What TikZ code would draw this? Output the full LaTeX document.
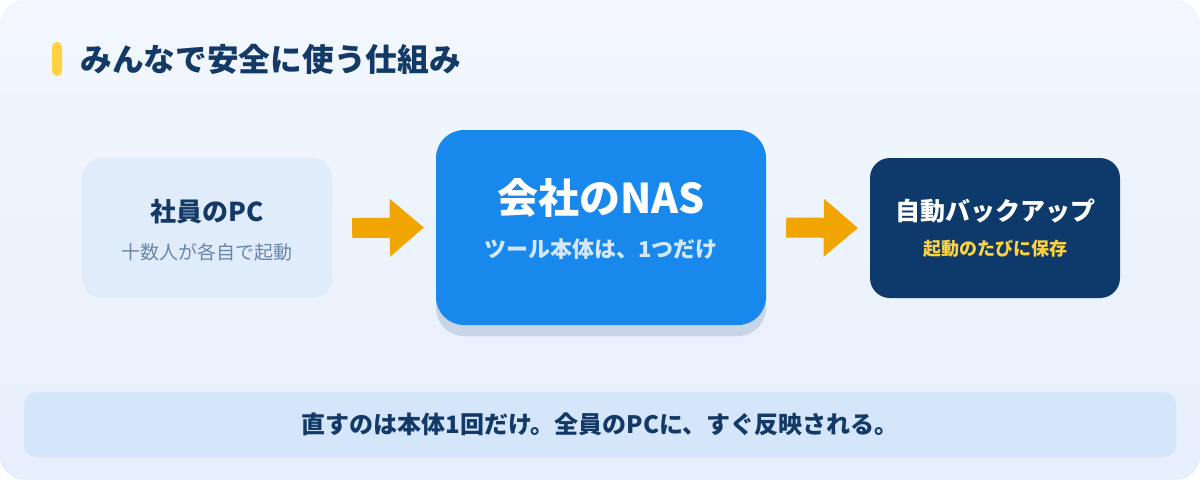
\documentclass[tikz,border=0pt]{standalone}
\usepackage{fontspec}
\setmainfont{Noto Sans CJK JP}
\usetikzlibrary{arrows.meta,calc,shadows}

\definecolor{bgTop}{HTML}{F3F7FD}
\definecolor{bgBottom}{HTML}{E6EFFC}
\definecolor{navy}{HTML}{133A66}
\definecolor{pcFill}{HTML}{E1ECFA}
\definecolor{pcSub}{HTML}{6B87A8}
\definecolor{arrowOrange}{HTML}{F0A500}
\definecolor{nasFill}{HTML}{1888EC}
\definecolor{nasShadow}{HTML}{C8D5E7}
\definecolor{nasSub}{HTML}{D3E8FD}
\definecolor{backupFill}{HTML}{0E3A6B}
\definecolor{accent}{HTML}{FFD23F}
\definecolor{barFill}{HTML}{D5E6FB}

\tikzset{
  box/.style={rounded corners=20pt, inner sep=0pt, minimum width=250pt, minimum height=140pt},
  flow/.style={draw=arrowOrange, line width=20pt,
    -{Triangle[length=34pt, width=58pt, line width=0pt]}},
  boxtitle/.style={inner sep=0pt, font=\bfseries\fontsize{26pt}{30pt}\selectfont},
  boxsub/.style={inner sep=0pt, font=\fontsize{19pt}{22pt}\selectfont},
}

\begin{document}
\begin{tikzpicture}[x=1pt, y=-1pt]
    % Background
    \useasboundingbox (0,0) rectangle (1200,480);
    \shade[top color=bgTop, bottom color=bgBottom, rounded corners=24pt] (0,0) rectangle (1200,480);

    % Heading
    \node[fill=accent, rounded corners=5pt, minimum width=10pt, minimum height=34pt, inner sep=0pt] (mark) at (57,59) {};
    \node[anchor=west, inner sep=0pt, text=navy, font=\bfseries\fontsize{31.7pt}{36pt}\selectfont]
        (heading) at ($(mark.east)+(18,0)$) {みんなで安全に使う仕組み};

    % Boxes
    \node[box, fill=pcFill] (pc) at (207,228) {};
    \node[box, fill=nasFill, rounded corners=28pt, minimum width=330pt, minimum height=195pt,
        general shadow={shadow yshift=-11pt, fill=nasShadow}] (nas) at (601,227.5) {};
    \node[box, fill=backupFill] (backup) at (995,228) {};

    % Box texts
    \node[boxtitle, text=navy] (pctitle) at ($(pc.center)+(0,-16)$) {社員のPC};
    \node[boxsub, text=pcSub] (pcsub) at ($(pc.center)+(0,24)$) {十数人が各自で起動};
    \node[inner sep=0pt, text=white, font=\bfseries\fontsize{41pt}{46pt}\selectfont]
        (nastitle) at ($(nas.center)+(0,-30)$) {会社のNAS};
    \node[boxsub, text=nasSub, font=\bfseries\fontsize{22pt}{26pt}\selectfont]
        (nassub) at ($(nas.center)+(0,22)$) {ツール本体は、1つだけ};
    \node[boxtitle, text=white, font=\bfseries\fontsize{25pt}{30pt}\selectfont]
        (backuptitle) at ($(backup.center)+(0,-17)$) {自動バックアップ};
    \node[boxsub, text=accent, font=\bfseries\fontsize{18pt}{22pt}\selectfont]
        (backupsub) at ($(backup.center)+(0,21)$) {起動のたびに保存};

    % Arrows
    \draw[flow] ($(pc.east)+(20,0)$) -- ($(nas.west)+(-12,0)$);
    \draw[flow] ($(nas.east)+(20,0)$) -- ($(backup.west)+(-12,0)$);

    % Bottom note
    \node[fill=barFill, rounded corners=12pt, minimum width=1152pt, minimum height=65pt,
        text=navy, font=\bfseries\fontsize{24pt}{28pt}\selectfont] (note) at (600,424.5)
        {直すのは本体1回だけ。全員のPCに、すぐ反映される。};
\end{tikzpicture}
\end{document}
